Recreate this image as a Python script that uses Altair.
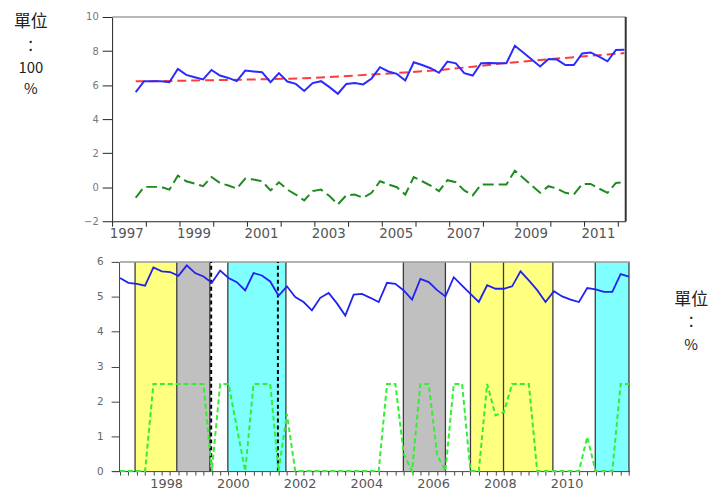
import altair as alt
import pandas as pd

# ---------------- top panel (quarterly, starts 1997.70) ----------------
top_start = 1997.70
top_blue = [5.59, 6.23, 6.23, 6.23, 6.17, 6.95, 6.60, 6.46, 6.33, 6.89,
            6.56, 6.42, 6.23, 6.85, 6.80, 6.76, 6.17, 6.70, 6.21, 6.07,
            5.65, 6.12, 6.23, 5.88, 5.49, 6.07, 6.12, 6.04, 6.39, 7.05,
            6.80, 6.66, 6.27, 7.34, 7.18, 6.99, 6.72, 7.38, 7.28, 6.70,
            6.56, 7.28, 7.30, 7.28, 7.28, 8.31, 7.92, 7.50, 7.09, 7.53,
            7.50, 7.18, 7.18, 7.86, 7.92, 7.67, 7.40, 8.06, 8.08]
top_green = [-0.62, 0.02, 0.02, 0.02, -0.14, 0.68, 0.35, 0.21, 0.06, 0.60,
             0.25, 0.10, -0.08, 0.51, 0.45, 0.35, -0.19, 0.29, -0.14, -0.43,
             -0.78, -0.23, -0.14, -0.52, -1.01, -0.47, -0.43, -0.62, -0.33, 0.35,
             0.16, 0.00, -0.43, 0.60, 0.35, 0.10, -0.23, 0.41, 0.29, -0.19,
             -0.48, 0.16, 0.16, 0.16, 0.16, 0.97, 0.54, 0.10, -0.33, 0.06,
             -0.08, -0.33, -0.43, 0.19, 0.19, -0.08, -0.33, 0.25, 0.29]
top_red_k = [0, 4, 8, 12, 16, 20, 24, 28, 32, 36, 40, 44, 48, 52, 56, 58]
top_red = [6.22, 6.24, 6.28, 6.31, 6.35, 6.40, 6.50, 6.62, 6.74, 6.88,
           7.08, 7.30, 7.47, 7.64, 7.80, 7.88]
top_years = list(range(1997, 2013))
top_yticks = [-2, 0, 2, 4, 6, 8, 10]

# ---------------- bottom panel (quarterly, starts 1996.5) ----------------
bot_start = 1996.5
bot_blue = [5.54, 5.40, 5.37, 5.32, 5.84, 5.73, 5.71, 5.60, 5.90, 5.68,
            5.58, 5.40, 5.75, 5.54, 5.42, 5.18, 5.68, 5.61, 5.44, 5.03,
            5.30, 4.99, 4.85, 4.61, 4.97, 5.11, 4.81, 4.46, 5.06, 5.08,
            4.97, 4.85, 5.40, 5.37, 5.18, 4.92, 5.51, 5.42, 5.19, 5.01,
            5.56, 5.32, 5.08, 4.85, 5.33, 5.23, 5.23, 5.30, 5.73, 5.47,
            5.19, 4.85, 5.16, 5.01, 4.92, 4.85, 5.25, 5.21, 5.14, 5.14,
            5.65, 5.58]
bot_green = [0, 0, 0, 0, 2.5, 2.5, 2.5, 2.5, 2.5, 2.5,
             2.5, 0, 2.5, 2.5, 1.25, 0, 2.5, 2.5, 2.5, 0,
             1.64, 0, 0, 0, 0, 0, 0, 0, 0, 0,
             0, 0, 2.5, 2.5, 0.5, 0, 2.5, 2.5, 0.47, 0,
             2.5, 2.5, 0, 0, 2.5, 1.6, 1.69, 2.5, 2.5, 2.5,
             0, 0, 0, 0, 0, 0, 0.98, 0, 0, 0,
             2.5, 2.5]
reg_start = [1996.95, 1998.20, 1999.73, 2004.99, 2007.00, 2010.74]
reg_end = [1998.20, 1999.19, 2001.47, 2006.25, 2009.47, 2011.75]
reg_color = ["#ffff80", "#c0c0c0", "#80ffff", "#c0c0c0", "#ffff80", "#80ffff"]
bounds = [1996.95, 1998.20, 1999.19, 1999.73, 2001.47, 2004.99, 2006.25,
          2007.00, 2007.99, 2009.47, 2010.74, 2011.75]
dashed = [1999.23, 2001.23]
bot_yticks = [0, 1, 2, 3, 4, 5, 6]

TOP_DOM = [1997.0, 2012.24]
BOT_DOM = [1996.262, 2011.771]
FONT = "DejaVu Sans"
CJK = "Noto Sans CJK TC"

top_df = pd.DataFrame({"t": [top_start + 0.25 * k for k in range(len(top_blue))],
                       "blue": top_blue, "green": top_green})
red_df = pd.DataFrame({"t": [top_start + 0.25 * k for k in top_red_k], "red": top_red})


def xt(field):
    return alt.X(field, type="quantitative",
                 scale=alt.Scale(domain=TOP_DOM, nice=False, zero=False),
                 axis=alt.Axis(values=top_years, title=None, grid=False,
                               labelExpr="datum.value % 2 == 1 ? toString(datum.value) : ''",
                               labelAlign="left", labelOffset=-3, labelFlush=False,
                               labelOverlap=False, tickSize=5, labelPadding=0,
                               domainColor="#222", tickColor="#222", labelColor="#555",
                               labelFont=FONT, labelFontSize=13.5))


def yt(field):
    return alt.Y(field, type="quantitative",
                 scale=alt.Scale(domain=[-2, 10], nice=False, zero=False),
                 axis=alt.Axis(values=top_yticks, title=None, grid=False,
                               tickSize=10, labelPadding=4, domainColor="#222",
                               tickColor="#222", labelColor="#777", labelFont=FONT,
                               labelFontSize=10))


frame_top_df = pd.DataFrame({"x": [TOP_DOM[0]], "x2": [TOP_DOM[1]], "y": [10], "y0": [-2]})

t_blue = alt.Chart(top_df).mark_line(color="#2b2bff", strokeWidth=2).encode(x=xt("t"), y=yt("blue"))
t_red = alt.Chart(red_df).mark_line(color="#ff3b3b", strokeWidth=2, strokeDash=[9, 5]).encode(x=xt("t"), y=yt("red"))
t_green = alt.Chart(top_df).mark_line(color="#1f8a1f", strokeWidth=2, strokeDash=[11, 5]).encode(x=xt("t"), y=yt("green"))
t_topb = alt.Chart(frame_top_df).mark_rule(color="#a0a0a0", strokeWidth=1.5).encode(x=xt("x"), x2="x2", y=yt("y"))
t_rightb = alt.Chart(frame_top_df).mark_rule(color="#333333", strokeWidth=2).encode(x=xt("x2"), y=yt("y0"), y2="y")


def txt(s, px, py, size):
    return alt.Chart(pd.DataFrame({"a": [0]})).mark_text(
        font=CJK, fontSize=size, color="#222", align="center", baseline="middle"
    ).encode(x=alt.value(px), y=alt.value(py), text=alt.value(s))


top = alt.layer(
    t_topb, t_rightb, t_red, t_blue, t_green,
    txt("單位", -82, 5.5, 17), txt("：", -82, 29, 15), txt("100", -82, 51.5, 15), txt("%", -82, 72.5, 15),
).properties(width=518, height=206)

# ---------------- bottom ----------------
bot_df = pd.DataFrame({"t": [bot_start + 0.25 * k for k in range(len(bot_blue))],
                       "blue": bot_blue, "green": bot_green})
reg_df = pd.DataFrame({"s": reg_start, "e": reg_end, "c": reg_color, "y0": 0, "y1": 6})
bnd_df = pd.DataFrame({"b": bounds, "y0": 0, "y1": 6})
dsh_df = pd.DataFrame({"b": dashed, "y0": 0, "y1": 6})
frame_bot_df = pd.DataFrame({"x": [bot_start], "x2": [BOT_DOM[1]], "y": [6]})
bot_xvals = [bot_start + 0.25 * k for k in range(len(bot_blue))]


def xb(field):
    return alt.X(field, type="quantitative",
                 scale=alt.Scale(domain=BOT_DOM, nice=False, zero=False),
                 axis=alt.Axis(values=bot_xvals, title=None, grid=False,
                               labelExpr="(abs(datum.value - round(datum.value)) < 0.01 && round(datum.value) % 2 == 0) ? toString(round(datum.value)) : ''",
                               labelOffset=-4, labelFlush=False, labelOverlap=False,
                               tickSize=4, labelPadding=3, domainColor="#444",
                               tickColor="#444", labelColor="#555", labelFont=FONT,
                               labelFontSize=13))


def yb(field):
    return alt.Y(field, type="quantitative",
                 scale=alt.Scale(domain=[0, 6], nice=False, zero=False),
                 axis=alt.Axis(values=bot_yticks, title=None, grid=False, offset=-7,
                               tickSize=8, labelPadding=8, domainColor="#444",
                               tickColor="#444", labelColor="#666", labelFont=FONT,
                               labelFontSize=10.5))


b_reg = alt.Chart(reg_df).mark_rect().encode(x=xb("s"), x2="e", y=yb("y0"), y2="y1",
                                             color=alt.Color("c:N", scale=None))
b_bnd = alt.Chart(bnd_df).mark_rule(color="#3a3a3a", strokeWidth=1.3).encode(x=xb("b"), y=yb("y0"), y2="y1")
b_top = alt.Chart(frame_bot_df).mark_rule(color="#9a9a9a", strokeWidth=1.5).encode(x=xb("x"), x2="x2", y=yb("y"))
b_dsh = alt.Chart(dsh_df).mark_rule(color="#000000", strokeWidth=2, strokeDash=[4, 3]).encode(x=xb("b"), y=yb("y0"), y2="y1")
b_blue = alt.Chart(bot_df).mark_line(color="#2222ee", strokeWidth=1.8).encode(x=xb("t"), y=yb("blue"))
b_green = alt.Chart(bot_df).mark_line(color="#33ee33", strokeWidth=2, strokeDash=[5, 3]).encode(x=xb("t"), y=yb("green"))

bottom = alt.layer(
    b_reg, b_bnd, b_top, b_dsh, b_blue, b_green,
    txt("單位", 584, 38, 17), txt("：", 584, 61, 15), txt("%", 584, 84, 15),
).properties(width=522, height=211)

chart = alt.vconcat(top, bottom, spacing=17).properties(
    padding={"left": 6, "top": 2, "right": 0, "bottom": 0}
).configure_view(stroke=None)

chart.save("out.html", embed_options={"renderer": "svg", "actions": False})
